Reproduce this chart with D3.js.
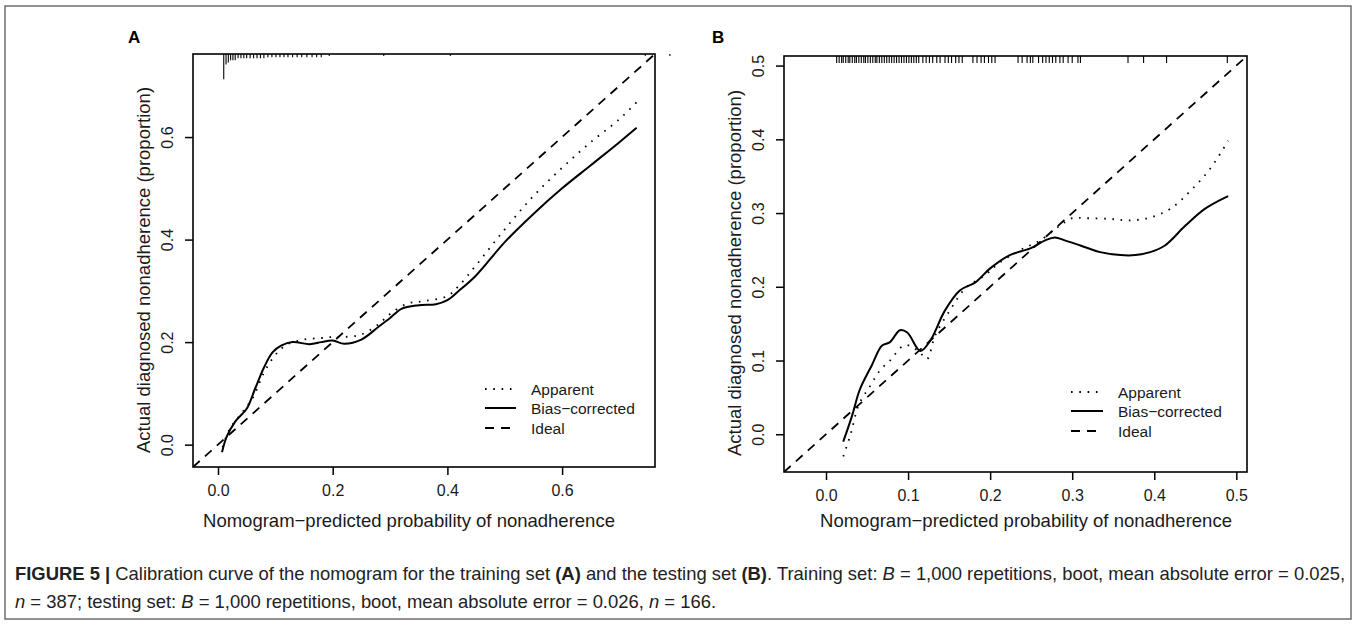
<!DOCTYPE html>
<html>
<head>
<meta charset="utf-8">
<script src="https://cdn.jsdelivr.net/npm/d3@7/dist/d3.min.js"></script>
<style>
  html, body { margin: 0; padding: 0; background: #ffffff; }
  svg { display: block; }
  text { font-family: "Liberation Sans", Arial, Helvetica, sans-serif; fill: #1a1a1a; }
</style>
</head>
<body>
<svg id="chart" width="1357" height="625"></svg>
<script>
// ---------------- DATA ----------------
// Panel A (training set)
const ticksA = [0, 0.2, 0.4, 0.6];
const apparentA_x = [0.008, 0.02, 0.04, 0.06, 0.08, 0.10, 0.12, 0.15, 0.18, 0.20, 0.22, 0.25, 0.28, 0.30, 0.33, 0.36, 0.40, 0.42, 0.45, 0.50, 0.55, 0.60, 0.65, 0.70, 0.73];
const apparentA_y = [-0.005, 0.03, 0.06, 0.09, 0.14, 0.175, 0.195, 0.205, 0.208, 0.21, 0.21, 0.215, 0.235, 0.255, 0.275, 0.28, 0.29, 0.31, 0.35, 0.42, 0.485, 0.54, 0.59, 0.635, 0.668];
const biasA_x = [0.007, 0.015, 0.03, 0.05, 0.065, 0.08, 0.095, 0.11, 0.13, 0.16, 0.18, 0.20, 0.22, 0.25, 0.28, 0.30, 0.32, 0.35, 0.38, 0.40, 0.42, 0.45, 0.50, 0.55, 0.60, 0.65, 0.70, 0.73];
const biasA_y = [-0.015, 0.015, 0.045, 0.07, 0.11, 0.15, 0.18, 0.193, 0.20, 0.196, 0.20, 0.203, 0.197, 0.205, 0.23, 0.247, 0.265, 0.272, 0.274, 0.282, 0.30, 0.33, 0.395, 0.45, 0.50, 0.545, 0.59, 0.618];
const rugA_x = [0.010, 0.014, 0.018, 0.022, 0.026, 0.030, 0.035, 0.040, 0.045, 0.050, 0.056, 0.062, 0.068, 0.074, 0.080, 0.087, 0.094, 0.101, 0.108, 0.115, 0.122, 0.130, 0.138, 0.146, 0.155, 0.164, 0.172, 0.180, 0.194, 0.289, 0.405, 0.745, 0.788];
const rugA_n = [12, 5, 4, 3, 3, 3, 2, 2, 2, 2, 2, 2, 2, 2, 2, 1.5, 1.5, 1.5, 1.5, 1.5, 1.5, 1.5, 1.5, 1.5, 1.5, 1.5, 1.5, 1.5, 1, 1, 1, 1, 1];

// Panel B (testing set)
const ticksB = [0, 0.1, 0.2, 0.3, 0.4, 0.5];
const apparentB_x = [0.021, 0.03, 0.04, 0.054, 0.066, 0.078, 0.094, 0.102, 0.115, 0.123, 0.133, 0.151, 0.17, 0.194, 0.212, 0.237, 0.261, 0.285, 0.30, 0.316, 0.346, 0.37, 0.395, 0.42, 0.444, 0.468, 0.49];
const apparentB_y = [-0.03, 0.0, 0.04, 0.066, 0.087, 0.10, 0.12, 0.12, 0.11, 0.102, 0.134, 0.168, 0.198, 0.216, 0.233, 0.25, 0.263, 0.283, 0.293, 0.293, 0.292, 0.29, 0.294, 0.306, 0.33, 0.36, 0.398];
const biasB_x = [0.021, 0.032, 0.041, 0.056, 0.068, 0.078, 0.09, 0.099, 0.115, 0.127, 0.145, 0.163, 0.182, 0.20, 0.224, 0.249, 0.267, 0.279, 0.291, 0.31, 0.334, 0.359, 0.377, 0.395, 0.413, 0.438, 0.462, 0.49];
const biasB_y = [-0.01, 0.026, 0.06, 0.094, 0.12, 0.125, 0.141, 0.138, 0.113, 0.127, 0.168, 0.195, 0.206, 0.225, 0.243, 0.252, 0.263, 0.267, 0.263, 0.256, 0.247, 0.243, 0.243, 0.247, 0.256, 0.283, 0.306, 0.323];
const rugB_x = [0.013, 0.016, 0.019, 0.021, 0.024, 0.027, 0.029, 0.032, 0.035, 0.037, 0.040, 0.043, 0.046, 0.048, 0.051, 0.054, 0.057, 0.060, 0.062, 0.065, 0.068, 0.071, 0.074, 0.077, 0.080, 0.083, 0.086, 0.089, 0.092, 0.095, 0.098, 0.101, 0.104, 0.107, 0.110, 0.113, 0.118, 0.122, 0.126, 0.130, 0.135, 0.139, 0.145, 0.149, 0.153, 0.158, 0.162, 0.166, 0.179, 0.184, 0.189, 0.193, 0.198, 0.202, 0.206, 0.234, 0.239, 0.245, 0.249, 0.252, 0.259, 0.264, 0.268, 0.272, 0.276, 0.280, 0.285, 0.289, 0.295, 0.300, 0.307, 0.310, 0.368, 0.387, 0.415, 0.489];

const legendLabels = ["Apparent", "Bias\u2212corrected", "Ideal"];
const xTitle = "Nomogram\u2212predicted probability of nonadherence";
const yTitle = "Actual diagnosed nonadherence (proportion)";

const captionLine1 = [
  {t: "FIGURE 5 | ", b: true},
  {t: "Calibration curve of the nomogram for the training set "},
  {t: "(A)", b: true},
  {t: " and the testing set "},
  {t: "(B)", b: true},
  {t: ". Training set: "},
  {t: "B", i: true},
  {t: " = 1,000 repetitions, boot, mean absolute error = 0.025,"}
];
const captionLine2 = [
  {t: "n", i: true},
  {t: " = 387; testing set: "},
  {t: "B", i: true},
  {t: " = 1,000 repetitions, boot, mean absolute error = 0.026, "},
  {t: "n", i: true},
  {t: " = 166."}
];

// ---------------- DRAWING ----------------
const svg = d3.select("#chart");

// outer frame
svg.append("rect").attr("x", 5).attr("y", 6).attr("width", 1346).attr("height", 613)
  .attr("fill", "none").attr("stroke", "#6e6e6e").attr("stroke-width", 1.5);

const panels = [
  {label: "A", labelX: 128, box: {l: 193, r: 655, t: 54, b: 467}, dom: [-0.0436, 0.762], ticks: ticksA,
   app: [apparentA_x, apparentA_y], bias: [biasA_x, biasA_y], rugX: rugA_x, rugN: rugA_n, rugUnit: 2.1,
   xTitleX: 409, yTitleY: 270,
   legend: {x0: 485, x1: 516, tx: 531, y: [389, 408, 428]}},
  {label: "B", labelX: 712, box: {l: 784, r: 1247, t: 56, b: 472}, dom: [-0.0512, 0.513], ticks: ticksB,
   app: [apparentB_x, apparentB_y], bias: [biasB_x, biasB_y], rugX: rugB_x, rugN: null, rugUnit: 7,
   xTitleX: 1026, yTitleY: 273,
   legend: {x0: 1071, x1: 1103, tx: 1118, y: [392, 411, 431]}}
];

const fmt = d3.format(".1f");

panels.forEach((p, idx) => {
  const g = svg.append("g");
  const x = d3.scaleLinear().domain(p.dom).range([p.box.l, p.box.r]);
  const y = d3.scaleLinear().domain(p.dom).range([p.box.b, p.box.t]);

  const clipId = "clip" + idx;
  svg.append("clipPath").attr("id", clipId).append("rect")
    .attr("x", p.box.l).attr("y", p.box.t).attr("width", p.box.r - p.box.l).attr("height", p.box.b - p.box.t);

  // panel letter
  g.append("text").attr("x", p.labelX).attr("y", 43).attr("font-size", 17).attr("font-weight", "bold")
    .style("fill", "#000").text(p.label);

  // ideal line (clipped diagonal)
  const lineGen = d3.line().x(d => x(d[0])).y(d => y(d[1]));
  g.append("path").attr("clip-path", `url(#${clipId})`)
    .attr("d", lineGen([[p.dom[0], p.dom[0]], [p.dom[1], p.dom[1]]]))
    .attr("fill", "none").attr("stroke", "#000").attr("stroke-width", 1.8).attr("stroke-dasharray", "9,7");

  const curve = d3.line().x(d => x(d[0])).y(d => y(d[1])).curve(d3.curveCatmullRom.alpha(0.5));
  const appPts = p.app[0].map((v, i) => [v, p.app[1][i]]);
  const biasPts = p.bias[0].map((v, i) => [v, p.bias[1][i]]);

  g.append("path").attr("d", curve(appPts)).attr("fill", "none").attr("stroke", "#000")
    .attr("stroke-width", 1.8).attr("stroke-dasharray", "1.6,6.7").attr("stroke-linecap", "butt");
  g.append("path").attr("d", curve(biasPts)).attr("fill", "none").attr("stroke", "#000")
    .attr("stroke-width", 2);

  // rug along top
  g.selectAll("line.rug").data(p.rugX).enter().append("line")
    .attr("x1", d => x(d)).attr("x2", d => x(d))
    .attr("y1", p.box.t)
    .attr("y2", (d, i) => p.box.t + p.rugUnit * (p.rugN ? p.rugN[i] : 1))
    .attr("stroke", "#000").attr("stroke-width", 1.1);

  // box
  g.append("rect").attr("x", p.box.l).attr("y", p.box.t).attr("width", p.box.r - p.box.l)
    .attr("height", p.box.b - p.box.t).attr("fill", "none").attr("stroke", "#000").attr("stroke-width", 1.6);

  // x axis
  const xa = g.append("g").attr("transform", `translate(0,${p.box.b})`)
    .call(d3.axisBottom(x).tickValues(p.ticks).tickFormat(fmt).tickSize(8).tickSizeOuter(0));
  xa.select(".domain").remove();
  xa.selectAll("line").attr("stroke", "#000").attr("stroke-width", 1.5);
  xa.selectAll("text").attr("y", 29).attr("dy", 0).attr("font-size", 16)
    .attr("font-family", "Liberation Sans, Arial, sans-serif").style("fill", "#1a1a1a");

  // y axis
  const ya = g.append("g").attr("transform", `translate(${p.box.l},0)`)
    .call(d3.axisLeft(y).tickValues(p.ticks).tickFormat(fmt).tickSize(8).tickSizeOuter(0));
  ya.select(".domain").remove();
  ya.selectAll("line").attr("stroke", "#000").attr("stroke-width", 1.5);
  ya.selectAll("text").attr("x", 0).attr("dy", 0).attr("text-anchor", "middle")
    .attr("transform", "translate(-20,0) rotate(-90)").attr("font-size", 16)
    .attr("font-family", "Liberation Sans, Arial, sans-serif").style("fill", "#1a1a1a");

  // titles
  g.append("text").attr("x", p.xTitleX).attr("y", 526.5).attr("text-anchor", "middle")
    .attr("font-size", 18.5).text(xTitle);
  g.append("text").attr("transform", `translate(${p.box.l - 43.5},${p.yTitleY}) rotate(-90)`)
    .attr("text-anchor", "middle").attr("font-size", 18.5).text(yTitle);

  // legend
  const L = p.legend;
  const styles = [
    {w: 1.8, dash: "1.6,6.7"},
    {w: 2, dash: null},
    {w: 1.8, dash: "9,7"}
  ];
  legendLabels.forEach((lab, i) => {
    const ln = g.append("line").attr("x1", L.x0).attr("x2", L.x1).attr("y1", L.y[i]).attr("y2", L.y[i])
      .attr("stroke", "#000").attr("stroke-width", styles[i].w);
    if (styles[i].dash) ln.attr("stroke-dasharray", styles[i].dash);
    g.append("text").attr("x", L.tx).attr("y", L.y[i] + 5.5).attr("font-size", 15.5).text(lab);
  });
});

// caption
function captionLine(parts) {
  const t = svg.append("text").attr("x", 0).attr("y", 0).attr("font-size", 17.5)
    .style("font-family", "'Liberation Sans Narrow', 'Liberation Sans', Arial, sans-serif").style("fill", "#222");
  parts.forEach(pt => {
    const s = t.append("tspan").text(pt.t);
    if (pt.b) s.attr("font-weight", "bold");
    if (pt.i) s.attr("font-style", "italic");
  });
  return t;
}
const c1 = captionLine(captionLine1);
const c2 = captionLine(captionLine2);
const w1 = c1.node().getComputedTextLength();
const sx = 1331 / w1;
c1.attr("transform", `translate(15,580) scale(${sx},1)`);
c2.attr("transform", `translate(15,608) scale(${sx},1)`);
</script>
</body>
</html>
